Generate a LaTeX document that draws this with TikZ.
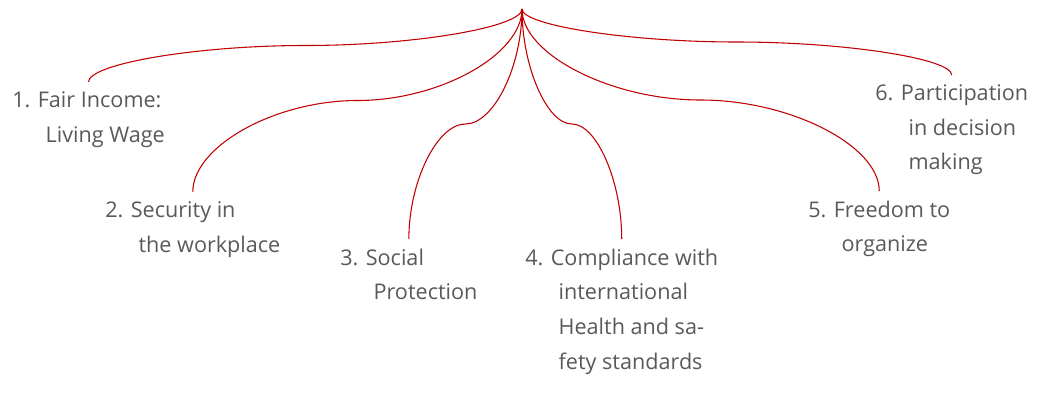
\documentclass[tikz,border=0pt]{standalone}
\usepackage{fontspec}
\setmainfont{Open Sans}
\usetikzlibrary{positioning,calc}
\definecolor{linkred}{RGB}{192,0,0}
\definecolor{textgray}{RGB}{89,89,89}
\newcommand{\ind}{\hspace*{25pt}}

\begin{document}
\begin{tikzpicture}[
    x=0.75pt, y=-0.75pt,
    item/.style={anchor=north west, align=left, text=textgray, inner xsep=0pt, inner ysep=7pt, font=\fontsize{16.2}{26}\selectfont},
    link/.style={draw=linkred, line width=0.8pt}
]
    \useasboundingbox (0,0) rectangle (1040,394);
    \coordinate (root) at (522,9);

    \node[item] (fair) at (12,82) {1. Fair Income:\\\ind Living Wage};
    \node[item] (secure) at (105,192) {2. Security in\\\ind the workplace};
    \node[item] (social) at (340,239) {3. Social\\\ind Protection};
    \node[item] (health) at (525,239) {4. Compliance with\\\ind international\\\ind Health and sa-\\\ind fety standards};
    \node[item] (organize) at (808,191) {5. Freedom to\\\ind organize};
    \node[item] (decide) at (875,75) {6. Participation\\\ind in decision\\\ind making};

    % curly links from the top point
    \foreach \n in {fair,secure,social,health,organize,decide} {
        \coordinate (mid) at ($(root)!.5!(\n.north)$);
        \draw[link] (root) .. controls ($(root)!.5!(root|-mid)$) and ($(mid)!.5!(root|-mid)$) .. (mid)
            .. controls ($(mid)!.5!(mid-|\n.north)$) and ($(\n.north)!.5!(mid-|\n.north)$) .. (\n.north);
    }
\end{tikzpicture}
\end{document}
